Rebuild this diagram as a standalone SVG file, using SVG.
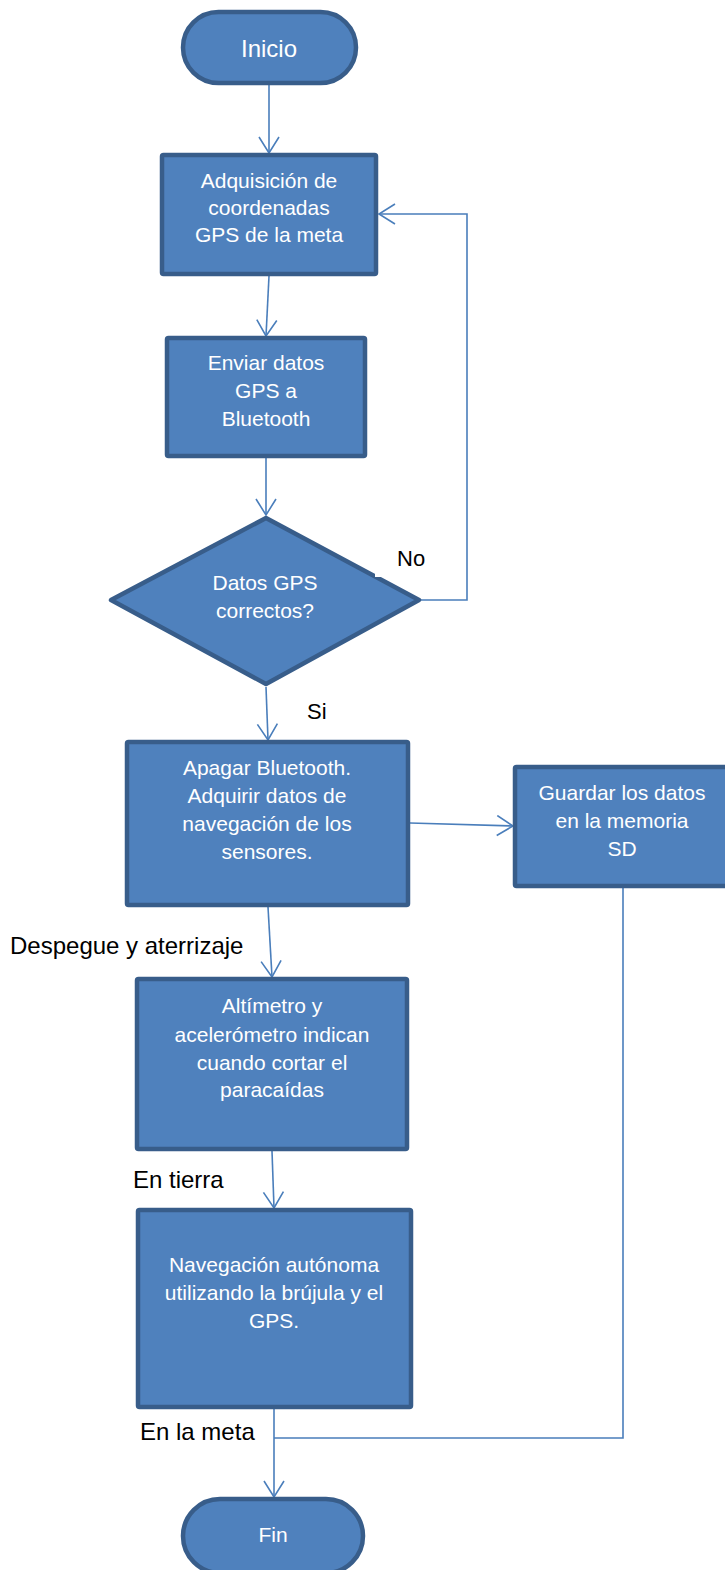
<svg xmlns="http://www.w3.org/2000/svg" width="725" height="1570" viewBox="0 0 725 1570">
<defs>
<style>
.shape{fill:#4F81BD;stroke:#385D8A;stroke-width:4.5;stroke-linejoin:round}
.t{font-family:"Liberation Sans",Arial,sans-serif;font-size:21px;fill:#FFFFFF;text-anchor:middle}
.big{font-size:24px}
.lbl{font-family:"Liberation Sans",Arial,sans-serif;font-size:24px;fill:#000000}
.lbl2{font-family:"Liberation Sans",Arial,sans-serif;font-size:22px;fill:#000000}
.c{fill:none;stroke:#4A7EBB;stroke-width:1.6}
</style>
<marker id="arr" markerUnits="userSpaceOnUse" markerWidth="22" markerHeight="22" viewBox="0 0 22 22" refX="17" refY="11" orient="auto">
<path d="M1,1 L17,11 L1,21" fill="none" stroke="#4A7EBB" stroke-width="1.6"/>
</marker>
</defs>
<rect width="725" height="1570" fill="#FFFFFF"/>

<g id="connectors">
<line class="c" x1="269" y1="85" x2="269" y2="153" marker-end="url(#arr)"/>
<line class="c" x1="269" y1="276" x2="266" y2="336" marker-end="url(#arr)"/>
<line class="c" x1="266" y1="458" x2="266" y2="515" marker-end="url(#arr)"/>
<line class="c" x1="266" y1="687" x2="268" y2="740" marker-end="url(#arr)"/>
<line class="c" x1="410" y1="823" x2="513" y2="826" marker-end="url(#arr)"/>
<line class="c" x1="268" y1="907" x2="272" y2="977" marker-end="url(#arr)"/>
<line class="c" x1="272" y1="1151" x2="274" y2="1208" marker-end="url(#arr)"/>
<line class="c" x1="274" y1="1409" x2="274" y2="1497" marker-end="url(#arr)"/>
<polyline class="c" points="421,600 467,600 467,214 379,214" marker-end="url(#arr)"/>
<polyline class="c" points="623,888 623,1438 274,1438"/>
</g>

<g id="inicio">
<rect class="shape" x="183" y="12" width="173" height="71" rx="35.5"/>
<text class="t big" x="269" y="57">Inicio</text>
</g>

<g id="adquisicion">
<rect class="shape" x="162" y="155" width="214" height="119" rx="1.5"/>
<text class="t" x="269" y="188">Adquisición de</text>
<text class="t" x="269" y="215">coordenadas</text>
<text class="t" x="269" y="242">GPS de la meta</text>
</g>

<g id="enviar">
<rect class="shape" x="167" y="338" width="198" height="118" rx="1.5"/>
<text class="t" x="266" y="370">Enviar datos</text>
<text class="t" x="266" y="398">GPS a</text>
<text class="t" x="266" y="426">Bluetooth</text>
</g>

<g id="decision">
<polygon class="shape" points="266,518 419,600 266,684 111,600"/>
<text class="t" x="265" y="590">Datos GPS</text>
<text class="t" x="265" y="618">correctos?</text>
</g>

<g id="labels">
<rect x="375" y="545" width="55" height="32" fill="#FFFFFF"/>
<text class="lbl2" x="397" y="566">No</text>
<text class="lbl2" x="307" y="719">Si</text>
<text class="lbl" x="10" y="954">Despegue y aterrizaje</text>
<text class="lbl" x="133" y="1188">En tierra</text>
<text class="lbl" x="140" y="1440">En la meta</text>
</g>

<g id="apagar">
<rect class="shape" x="127" y="742" width="281" height="163" rx="1.5"/>
<text class="t" x="267" y="775">Apagar Bluetooth.</text>
<text class="t" x="267" y="803">Adquirir datos de</text>
<text class="t" x="267" y="831">navegación de los</text>
<text class="t" x="267" y="859">sensores.</text>
</g>

<g id="guardar">
<rect class="shape" x="515" y="767" width="214" height="119" rx="1.5"/>
<text class="t" x="622" y="800">Guardar los datos</text>
<text class="t" x="622" y="828">en la memoria</text>
<text class="t" x="622" y="856">SD</text>
</g>

<g id="altimetro">
<rect class="shape" x="137" y="979" width="270" height="170" rx="1.5"/>
<text class="t" x="272" y="1013">Altímetro y</text>
<text class="t" x="272" y="1042">acelerómetro indican</text>
<text class="t" x="272" y="1070">cuando cortar el</text>
<text class="t" x="272" y="1097">paracaídas</text>
</g>

<g id="navegacion">
<rect class="shape" x="138" y="1210" width="273" height="197" rx="1.5"/>
<text class="t" x="274" y="1272">Navegación autónoma</text>
<text class="t" x="274" y="1300">utilizando la brújula y el</text>
<text class="t" x="274" y="1328">GPS.</text>
</g>

<g id="fin">
<rect class="shape" x="183" y="1499" width="180" height="74" rx="37"/>
<text class="t" x="273" y="1542">Fin</text>
</g>
</svg>
